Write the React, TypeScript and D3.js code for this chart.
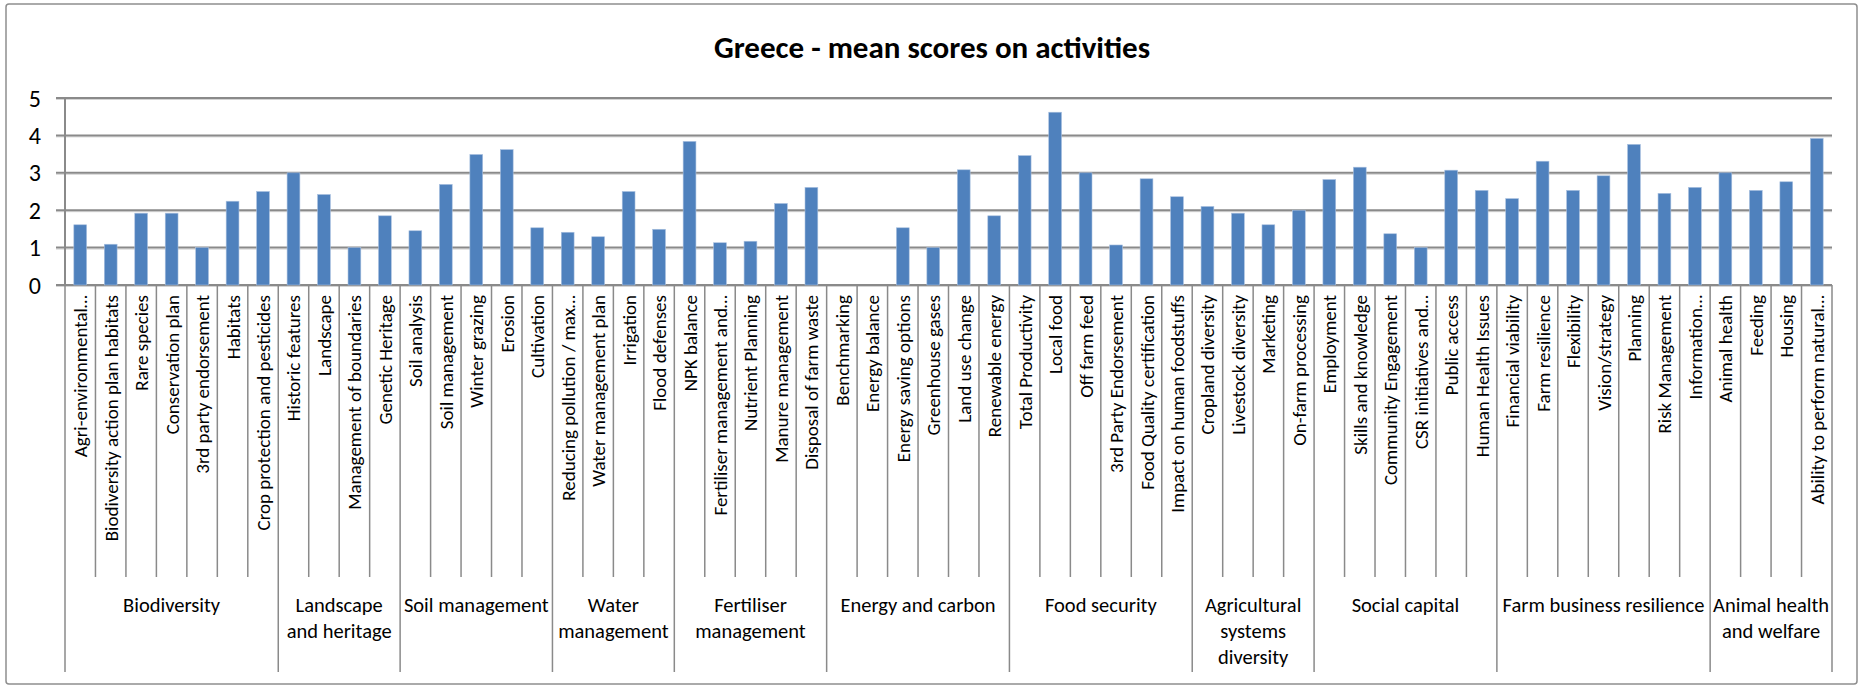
import React from 'react';
import * as d3 from 'd3';

const activities: string[] = [
  'Agri-environmental…', 'Biodiversity action plan habitats', 'Rare species', 'Conservation plan',
  '3rd party endorsement', 'Habitats', 'Crop protection and pesticides',
  'Historic features', 'Landscape', 'Management of boundaries', 'Genetic Heritage',
  'Soil analysis', 'Soil management', 'Winter grazing', 'Erosion', 'Cultivation',
  'Reducing pollution / max…', 'Water management plan', 'Irrigation', 'Flood defenses',
  'NPK balance', 'Fertiliser management and…', 'Nutrient Planning', 'Manure management', 'Disposal of farm waste',
  'Benchmarking', 'Energy balance', 'Energy saving options', 'Greenhouse gases', 'Land use change', 'Renewable energy',
  'Total Productivity', 'Local food', 'Off farm feed', '3rd Party Endorsement', 'Food Quality certification', 'Impact on human foodstuffs',
  'Cropland diversity', 'Livestock diversity', 'Marketing', 'On-farm processing',
  'Employment', 'Skills and knowledge', 'Community Engagement', 'CSR initiatives and…', 'Public access', 'Human Health Issues',
  'Financial viability', 'Farm resilience', 'Flexibility', 'Vision/strategy', 'Planning', 'Risk Management', 'Information…',
  'Animal health', 'Feeding', 'Housing', 'Ability to perform natural…',
];

const scores: number[] = [
  1.61, 1.09, 1.92, 1.92, 1.0, 2.24, 2.5,
  3.0, 2.42, 1.0, 1.85,
  1.45, 2.69, 3.49, 3.62, 1.53,
  1.41, 1.29, 2.5, 1.49,
  3.84, 1.13, 1.17, 2.18, 2.61,
  0, 0, 1.53, 1.0, 3.08, 1.85,
  3.46, 4.62, 3.0, 1.07, 2.84, 2.36,
  2.1, 1.92, 1.61, 2.0,
  2.82, 3.15, 1.37, 1.0, 3.07, 2.53,
  2.31, 3.31, 2.53, 2.92, 3.76, 2.45, 2.61,
  3.0, 2.53, 2.76, 3.92,
];

const groupNames: string[][] = [
  ['Biodiversity'], ['Landscape', 'and heritage'], ['Soil management'], ['Water', 'management'],
  ['Fertiliser', 'management'], ['Energy and carbon'], ['Food security'],
  ['Agricultural', 'systems', 'diversity'], ['Social capital'], ['Farm business resilience'],
  ['Animal health', 'and welfare'],
];
const groupSizes: number[] = [7, 4, 5, 4, 5, 6, 6, 4, 6, 7, 4];

const yTicks = [0, 1, 2, 3, 4, 5];

const W = 1861;
const H = 685;
const FONT = 'Carlito, Calibri, Lato, sans-serif';

const App: React.FC = () => {
  const left = 65;
  const right = 1832;
  const top = 98;
  const bottom = 285;
  const tickEnd = 577;
  const groupEnd = 672;

  const x = d3
    .scaleBand<number>()
    .domain(d3.range(activities.length))
    .range([left, right])
    .paddingInner(0.58)
    .paddingOuter(0.29);
  const step = (right - left) / activities.length;
  const y = d3.scaleLinear().domain([0, 5]).range([bottom, top]);

  // group start indexes
  const starts = groupSizes.map((_, i) => d3.sum(groupSizes.slice(0, i)));

  return (
    <svg
      width={W}
      height={H}
      style={{ position: 'absolute', left: 0, top: 0, background: '#fff' }}
      fontFamily={FONT}
    >
      <rect x={6} y={4} width={1851} height={680} rx={3} fill="#fff" stroke="#8e8e8e" strokeWidth={1.5} />

      <text x={932} y={58} textAnchor="middle" fontSize={31} fontWeight="bold" fill="#000">
        Greece - mean scores on activities
      </text>

      {/* gridlines */}
      {yTicks.map((t) => (
        <g key={t}>
          <line x1={56} x2={right} y1={y(t) + 1.5} y2={y(t) + 1.5} stroke="#d4d4d4" strokeWidth={1} />
          <line x1={56} x2={right} y1={y(t)} y2={y(t)} stroke="#8a8a8a" strokeWidth={2} />
          <text x={41} y={y(t)} textAnchor="end" dominantBaseline="central" fontSize={24} fill="#000">
            {t}
          </text>
        </g>
      ))}
      <line x1={left} x2={left} y1={top} y2={bottom} stroke="#8a8a8a" strokeWidth={2} />

      {/* bars */}
      {scores.map((v, i) =>
        v > 0 ? (
          <rect
            key={i}
            x={x(i)!}
            y={y(v)}
            width={x.bandwidth()}
            height={y(0) - y(v)}
            fill="#4f81bd"
            stroke="#a9c0df"
            strokeWidth={0.6}
          />
        ) : null
      )}

      {/* category separators */}
      {d3.range(activities.length + 1).map((i) => (
        <line
          key={i}
          x1={left + i * step}
          x2={left + i * step}
          y1={bottom}
          y2={starts.includes(i) || i === activities.length ? groupEnd : tickEnd}
          stroke="#8a8a8a"
          strokeWidth={1.5}
        />
      ))}

      {/* category labels */}
      {activities.map((a, i) => {
        const cx = x(i)! + x.bandwidth() / 2;
        return (
          <text
            key={i}
            transform={`translate(${cx + 7},${bottom + 10}) rotate(-90)`}
            textAnchor="end"
            fontSize={19}
            fill="#000"
          >
            {a}
          </text>
        );
      })}

      {/* group labels */}
      {groupNames.map((lines, g) => {
        const cx = left + (starts[g] + groupSizes[g] / 2) * step;
        return (
          <text key={g} x={cx} y={612} textAnchor="middle" fontSize={20.5} fill="#000">
            {lines.map((l, k) => (
              <tspan key={k} x={cx} dy={k === 0 ? 0 : 26}>
                {l}
              </tspan>
            ))}
          </text>
        );
      })}
    </svg>
  );
};

export default App;
